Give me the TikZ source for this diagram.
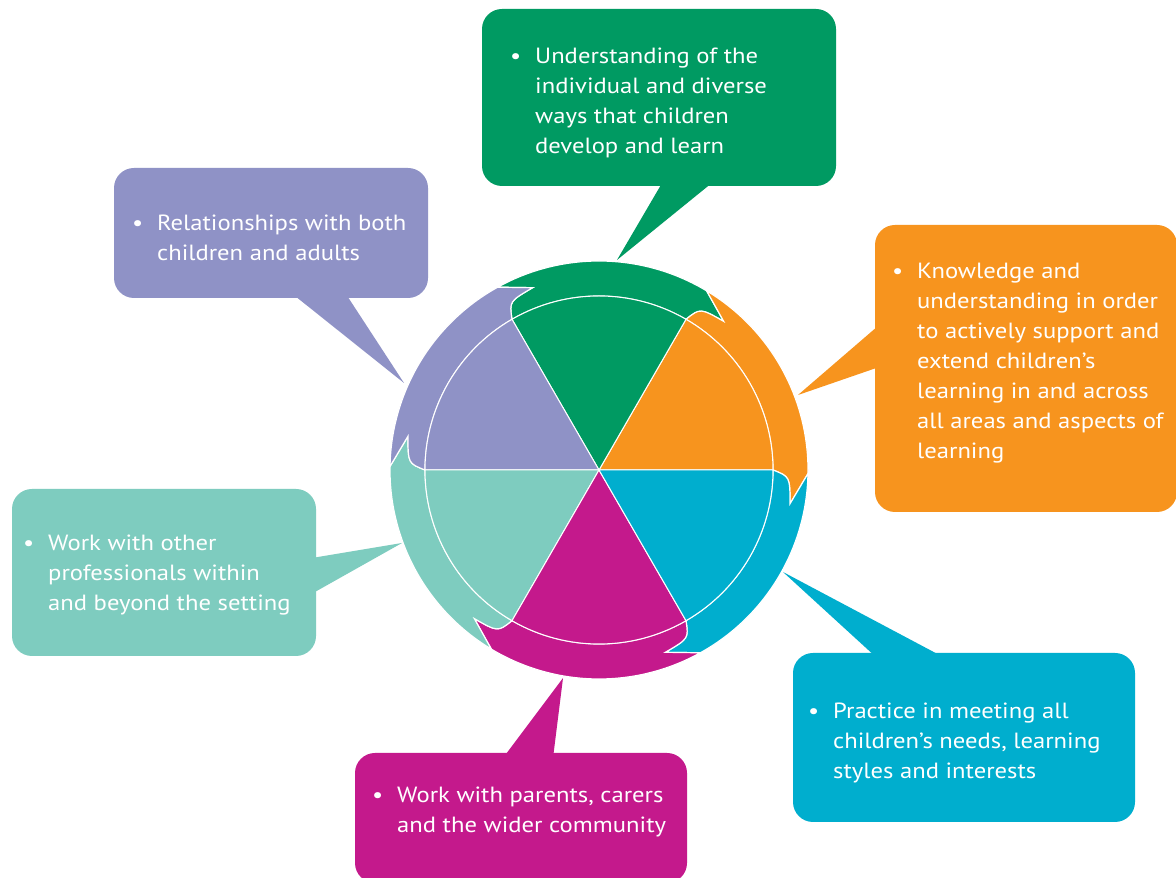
\documentclass[tikz,border=0pt]{standalone}
\usepackage{fontspec}
\setmainfont[FakeStretch=1.12]{PT Sans}
\definecolor{cgreen}{HTML}{009A62}
\definecolor{clav}{HTML}{8F92C6}
\definecolor{corange}{HTML}{F7941E}
\definecolor{cteal}{HTML}{7ECCBF}
\definecolor{ccyan}{HTML}{00AECE}
\definecolor{cmag}{HTML}{C4198C}
\newcommand\wheelband[2]{%
  \pgfmathsetmacro\tA{#2}\pgfmathsetmacro\tB{#2-2}\pgfmathsetmacro\tC{#2-10}\pgfmathsetmacro\tD{#2-1}%
  \pgfmathsetmacro\bA{#2-60}\pgfmathsetmacro\bB{#2-62}\pgfmathsetmacro\bC{#2-70}\pgfmathsetmacro\bD{#2-61}%
  \fill[band=#1] (\tA:174) .. controls (\tB:191) .. (\tC:194) -- (\tD:209)
    arc[start angle=\tD, end angle=\bD, radius=209] -- (\bC:194)
    .. controls (\bB:191) .. (\bA:174)
    arc[start angle=\bA, end angle=\tA, radius=174] -- cycle;}
\newcommand\wheelsector[2]{%
  \pgfmathsetmacro\sE{#2+60}%
  \fill[sector=#1] (0,0) -- (#2:174) arc[start angle=#2, end angle=\sE, radius=174] -- cycle;}
\newcommand\btext[1]{\vtop{\baselineskip=30pt\lineskiplimit=-100pt #1}}
\newcommand\bl{\llap{\textbullet\hskip14pt}}
\begin{document}
\begin{tikzpicture}[x=1pt,y=1pt,
  box/.style={fill=#1, rounded corners=20pt, inner sep=0pt, draw=none},
  ptr/.style={fill=#1},
  txt/.style={anchor=base west, inner sep=0pt, text=white, font=\fontsize{22}{30}\selectfont},
  band/.style={fill=#1, draw=white, line width=1.2pt, line join=miter},
  sector/.style={fill=#1, draw=white, line width=1pt}]
\useasboundingbox (0,0) rectangle (1176,878);
\fill[white] (0,0) rectangle (1176,878);

% boxes
\node[box=cgreen, minimum width=354pt, minimum height=177pt] (gbox) at (659,780.5) {};
\node[box=clav, minimum width=314pt, minimum height=130pt] (lbox) at (271,645) {};
\node[box=corange, minimum width=302pt, minimum height=287pt] (obox) at (1026,509.5) {};
\node[box=cteal, minimum width=304pt, minimum height=167pt] (tbox) at (164,305.5) {};
\node[box=ccyan, minimum width=342pt, minimum height=169pt] (cbox) at (964,140.5) {};
\node[box=cmag, minimum width=332pt, minimum height=130pt] (mbox) at (521,60) {};

% pointer tips and bases
\coordinate (gt) at (617,618); \coordinate (ga) at (665,700); \coordinate (gb) at (718,700);
\coordinate (lt) at (404,495); \coordinate (la) at (285,590); \coordinate (lb) at (342,590);
\coordinate (ot) at (798,483); \coordinate (oa) at (885,558); \coordinate (ob) at (885,513);
\coordinate (tt) at (402,335); \coordinate (ta) at (306,319); \coordinate (tb) at (306,281);
\coordinate (ct) at (783,306); \coordinate (ca) at (877,220); \coordinate (cb) at (945,220);
\coordinate (mt) at (563,200); \coordinate (ma) at (503,120); \coordinate (mb) at (553,120);
\fill[ptr=cgreen] (ga) -- (gt) -- (gb) -- cycle;
\fill[ptr=clav] (la) -- (lt) -- (lb) -- cycle;
\fill[ptr=corange] (oa) -- (ot) -- (ob) -- cycle;
\fill[ptr=cteal] (ta) -- (tt) -- (tb) -- cycle;
\fill[ptr=ccyan] (ca) -- (ct) -- (cb) -- cycle;
\fill[ptr=cmag] (ma) -- (mt) -- (mb) -- cycle;

% wheel
\begin{scope}[shift={(599,408)}]
\coordinate (wc) at (0,0);
\wheelband{cgreen}{120}
\wheelband{corange}{60}
\wheelband{ccyan}{0}
\wheelband{cmag}{-60}
\wheelband{cteal}{-120}
\wheelband{clav}{180}
\wheelsector{corange}{0}
\wheelsector{cgreen}{60}
\wheelsector{clav}{120}
\wheelsector{cteal}{180}
\wheelsector{cmag}{240}
\wheelsector{ccyan}{300}
\end{scope}

% texts
\node[txt] (gtext) at (535,814) {\btext{\hbox{\bl Understanding of the}\hbox{individual and diverse}\hbox{ways that children}\hbox{develop and learn}}};
\node[txt] (ltext) at (157,647) {\btext{\hbox{\bl Relationships with both}\hbox{children and adults}}};
\node[txt] (otext) at (917,599) {\btext{\hbox{\bl Knowledge and}\hbox{understanding in order}\hbox{to actively support and}\hbox{extend children’s}\hbox{learning in and across}\hbox{all areas and aspects of}\hbox{learning}}};
\node[txt] (ttext) at (48,327) {\btext{\hbox{\bl Work with other}\hbox{professionals within}\hbox{and beyond the setting}}};
\node[txt] (ctext) at (833,159) {\btext{\hbox{\bl Practice in meeting all}\hbox{children’s needs, learning}\hbox{styles and interests}}};
\node[txt] (mtext) at (397,75) {\btext{\hbox{\bl Work with parents, carers}\hbox{and the wider community}}};
\end{tikzpicture}
\end{document}
